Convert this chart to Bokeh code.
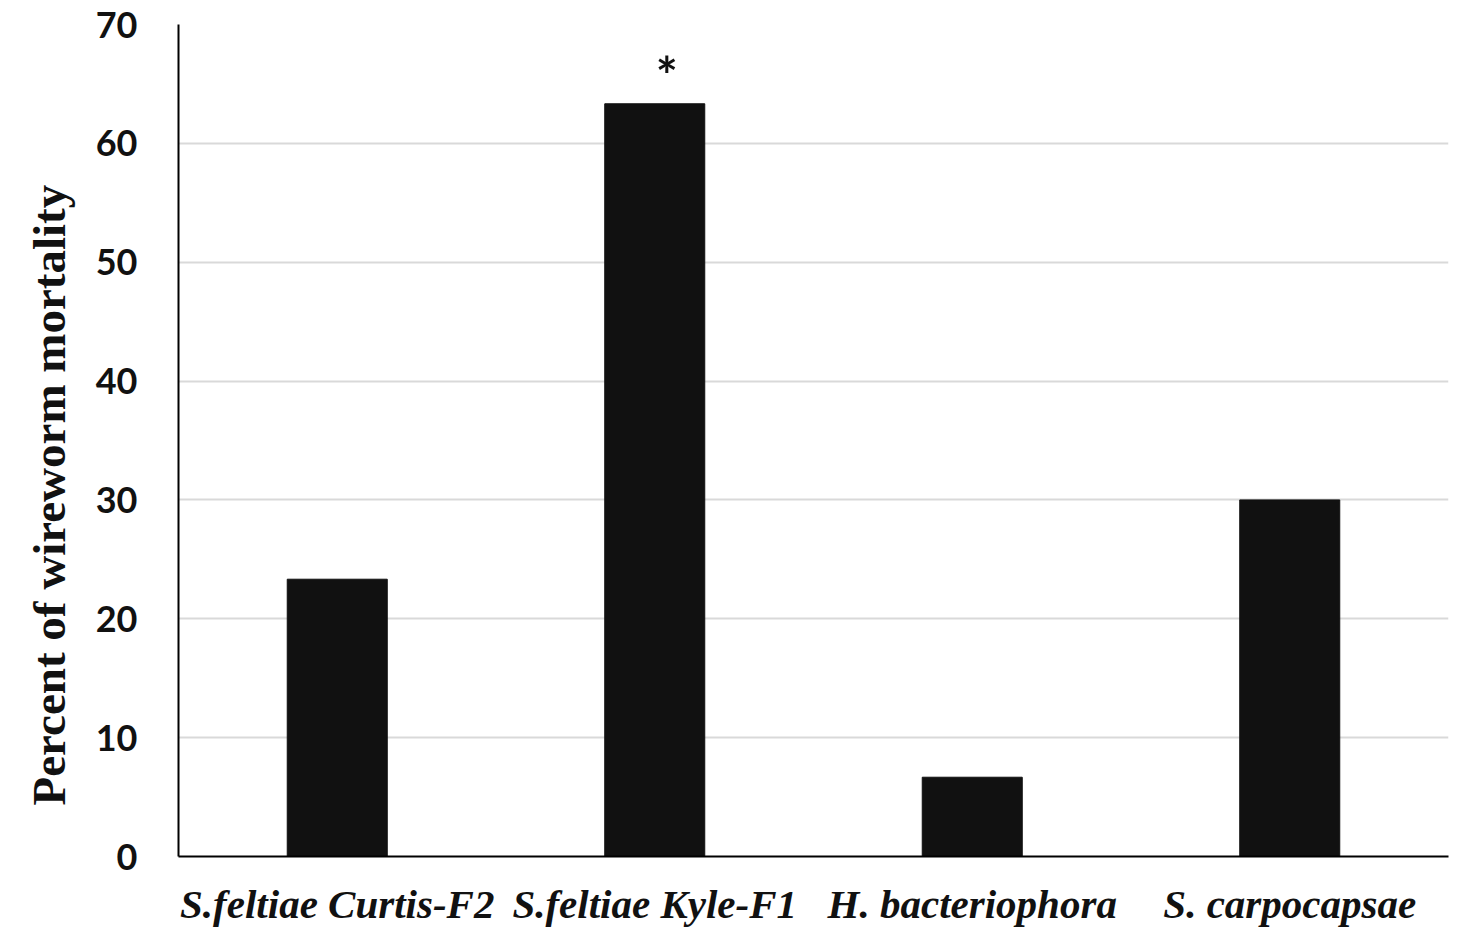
from bokeh.plotting import figure
from bokeh.models import ColumnDataSource, FactorRange, Range1d, FixedTicker, Title
from bokeh.core.properties import value
from bokeh.embed import file_html
from bokeh.resources import INLINE

categories = ["S.feltiae Curtis-F2", "S.feltiae Kyle-F1", "H. bacteriophora", "S. carpocapsae"]
mortality = [23.33, 63.33, 6.67, 30.0]
marks = ["", "*", "", ""]
y_ticks = [0, 10, 20, 30, 40, 50, 60, 70]
y_title = "Percent of  wireworm mortality"

src = ColumnDataSource(dict(cat=categories, val=mortality, mark=marks))

p = figure(x_range=FactorRange(*categories), y_range=Range1d(0, 70),
           width=1463, height=930, output_backend="svg", toolbar_location=None,
           min_border_left=178, min_border_right=15, min_border_top=24, min_border_bottom=74)
p.outline_line_color = None
p.background_fill_color = "white"
p.border_fill_color = "white"

p.vbar(x="cat", top="val", width=0.315, source=src, fill_color="#111111", line_color="#111111")
p.text(x="cat", y="val", text="mark", source=src, text_align="center", text_baseline="alphabetic",
       x_offset=12, y_offset=-29, text_font=value("Lato"), text_font_style="bold", text_font_size="52px",
       text_color="#111111")

p.yaxis.ticker = FixedTicker(ticks=y_ticks)
p.yaxis.major_label_text_font = "Lato"
p.yaxis.major_label_text_font_style = "bold"
p.yaxis.major_label_text_font_size = "36px"
p.yaxis.major_label_text_color = "#111111"
p.yaxis.major_tick_line_color = None
p.yaxis.minor_tick_line_color = None
p.yaxis.major_label_standoff = 35
p.yaxis.axis_line_color = "black"
p.yaxis.axis_line_width = 2

yt = Title(text=y_title, align="left", offset=51, text_font="Liberation Serif",
           text_font_style="bold", text_font_size="47px", text_color="#111111", standoff=36)
p.add_layout(yt, "left")

p.xaxis.major_label_text_font = "Liberation Serif"
p.xaxis.major_label_text_font_style = "bold italic"
p.xaxis.major_label_text_font_size = "41px"
p.xaxis.major_label_text_color = "#111111"
p.xaxis.major_tick_line_color = None
p.xaxis.minor_tick_line_color = None
p.xaxis.major_label_standoff = 18
p.xaxis.axis_line_color = "black"
p.xaxis.axis_line_width = 2

p.xgrid.grid_line_color = None
p.ygrid.grid_line_color = "#d9d9d9"
p.ygrid.grid_line_width = 2

open("out.html", "w").write(file_html(p, INLINE))
